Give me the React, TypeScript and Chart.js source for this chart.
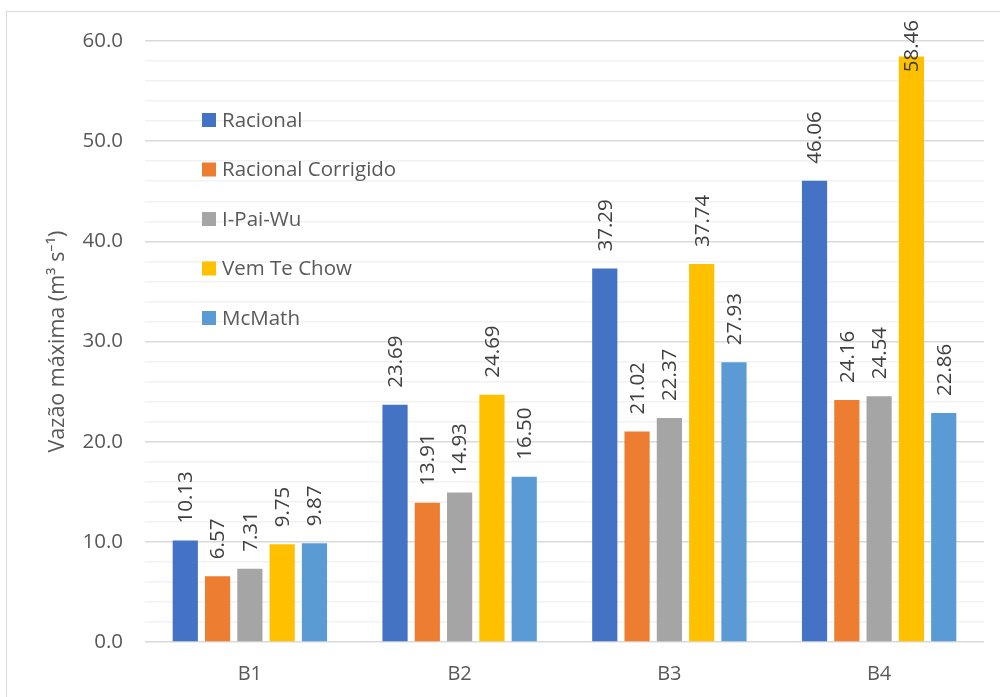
import React, { useEffect, useRef } from "react";
import { Chart, registerables } from "chart.js";

Chart.register(...registerables);

const categories = ["B1", "B2", "B3", "B4"];
const seriesNames = ["Racional", "Racional Corrigido", "I-Pai-Wu", "Vem Te Chow", "McMath"];
const racional = [10.13, 23.69, 37.29, 46.06];
const racionalCorrigido = [6.57, 13.91, 21.02, 24.16];
const iPaiWu = [7.31, 14.93, 22.37, 24.54];
const vemTeChow = [9.75, 24.69, 37.74, 58.46];
const mcMath = [9.87, 16.5, 27.93, 22.86];
const seriesColors = ["#4472C4", "#ED7D31", "#A5A5A5", "#FFC000", "#5B9BD5"];
const yTicksMajor = [0, 10, 20, 30, 40, 50, 60];

const FONT = "'Open Sans', 'Noto Sans', sans-serif";

const framePlugin = {
  id: "frame",
  beforeDraw(chart: any) {
    const { ctx, width, height } = chart;
    ctx.save();
    ctx.fillStyle = "#ffffff";
    ctx.fillRect(0, 0, width, height);
    ctx.strokeStyle = "#d9d9d9";
    ctx.lineWidth = 1;
    ctx.strokeRect(6.5, 11.5, width + 10, height + 10);
    ctx.restore();
  },
};

const legendPlugin = {
  id: "insideLegend",
  afterDatasetsDraw(chart: any) {
    const { ctx } = chart;
    ctx.save();
    ctx.font = `20.5px ${FONT}`;
    ctx.textBaseline = "middle";
    ctx.textAlign = "left";
    chart.data.datasets.forEach((ds: any, i: number) => {
      const cy = 120 + i * 49.5;
      ctx.fillStyle = ds.backgroundColor;
      ctx.fillRect(202, cy - 7, 14, 14);
      ctx.fillStyle = "#595959";
      ctx.fillText(ds.label, 222, cy + 1);
    });
    ctx.restore();
  },
};

const labelPlugin = {
  id: "valueLabels",
  afterDatasetsDraw(chart: any) {
    const { ctx } = chart;
    ctx.save();
    ctx.font = `20.5px ${FONT}`;
    ctx.fillStyle = "#404040";
    ctx.textBaseline = "middle";
    ctx.textAlign = "left";
    chart.data.datasets.forEach((ds: any, di: number) => {
      const meta = chart.getDatasetMeta(di);
      meta.data.forEach((el: any, i: number) => {
        const txt = Number(ds.data[i]).toFixed(2);
        const w = ctx.measureText(txt).width;
        let start = el.y - 17;
        if (start - w < 20) start = 20 + w;
        ctx.save();
        ctx.translate(el.x + 1, start);
        ctx.rotate(-Math.PI / 2);
        ctx.fillText(txt, 0, 0);
        ctx.restore();
      });
    });
    ctx.restore();
  },
};

export default function App() {
  const ref = useRef<HTMLCanvasElement | null>(null);

  useEffect(() => {
    if (!ref.current) return;
    const allSeries = [racional, racionalCorrigido, iPaiWu, vemTeChow, mcMath];
    const chart = new Chart(ref.current, {
      type: "bar",
      data: {
        labels: categories,
        datasets: allSeries.map((d, i) => ({
          label: seriesNames[i],
          data: d,
          backgroundColor: seriesColors[i],
          borderWidth: 0,
          categoryPercentage: 0.77,
          barPercentage: 0.78,
        })),
      },
      options: {
        responsive: false,
        animation: false,
        devicePixelRatio: 1,
        layout: { padding: { left: 0, right: 16, top: 41, bottom: 0 } },
        plugins: {
          legend: { display: false },
          tooltip: { enabled: false },
        },
        scales: {
          x: {
            grid: { display: false },
            border: { display: false },
            ticks: {
              color: "#595959",
              font: { family: FONT, size: 20 },
              padding: 12,
            },
            afterFit(scale: any) {
              scale.height = 55;
            },
          },
          y: {
            min: 0,
            max: 60,
            border: { display: false },
            grid: {
              drawTicks: false,
              color: (c: any) =>
                yTicksMajor.includes(c.tick?.value) ? "#d9d9d9" : "#f2f2f2",
              lineWidth: 1.5,
            },
            ticks: {
              stepSize: 2,
              color: "#595959",
              font: { family: FONT, size: 20.5 },
              padding: 22,
              autoSkip: false,
              callback: (v: any) => (yTicksMajor.includes(Number(v)) ? Number(v).toFixed(1) : ""),
            },
            title: {
              display: true,
              text: "Vazão máxima (m³ s⁻¹)",
              color: "#595959",
              font: { family: FONT, size: 21.5 },
              padding: { top: 45, bottom: 0 },
            },
            afterFit(scale: any) {
              scale.width = 145;
            },
          },
        },
      },
      plugins: [framePlugin, legendPlugin, labelPlugin],
    });
    return () => chart.destroy();
  }, []);

  return (
    <div style={{ position: "absolute", left: 0, top: 0, width: 1000, height: 697 }}>
      <canvas ref={ref} width={1000} height={697} />
    </div>
  );
}
